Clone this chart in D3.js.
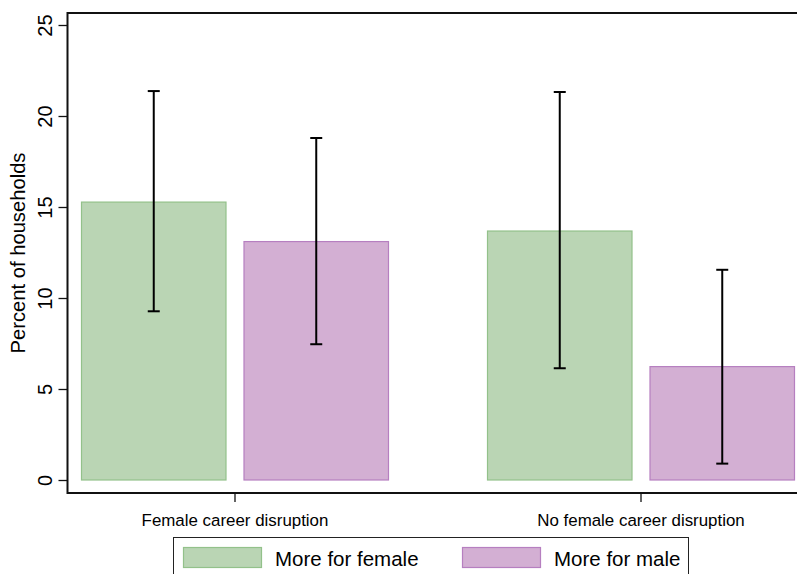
<!DOCTYPE html>
<html>
<head>
<meta charset="utf-8">
<script src="https://cdn.jsdelivr.net/npm/d3@7"></script>
<style>
  html, body { margin: 0; padding: 0; background: #fff; }
  svg { display: block; }
  text { font-family: "Liberation Sans", Arial, Helvetica, sans-serif; fill: #000; }
</style>
</head>
<body>
<svg id="chart" width="797" height="574"></svg>
<script>
// Household shares by career-disruption status
const categories = ["Female career disruption", "No female career disruption"];
const seriesNames = ["More for female", "More for male"];
const moreForFemale = [15.27, 13.68];
const moreForMale = [13.1, 6.23];
const femaleLow = [9.27, 6.14];
const femaleHigh = [21.37, 21.32];
const maleLow = [7.46, 0.9];
const maleHigh = [18.79, 11.55];
const yTicks = [0, 5, 10, 15, 20, 25];

const colors = {
  "More for female": { fill: "#bad5b4", stroke: "#93c18a" },
  "More for male": { fill: "#d3afd3", stroke: "#b67fc0" }
};

const rows = [];
categories.forEach((c, i) => {
  rows.push({ cat: c, series: seriesNames[0], value: moreForFemale[i], lo: femaleLow[i], hi: femaleHigh[i] });
  rows.push({ cat: c, series: seriesNames[1], value: moreForMale[i], lo: maleLow[i], hi: maleHigh[i] });
});

const svg = d3.select("#chart");

const frame = { left: 67.5, right: 809, top: 13, bottom: 493 };

const y = d3.scaleLinear().domain([0, 25]).range([480, 25]);
const x0 = d3.scaleBand().domain(categories).range([81, 795]).paddingInner(0.2414).paddingOuter(0);
const x1 = d3.scaleBand().domain(seriesNames).range([0, x0.bandwidth()]).paddingInner(0.1046).paddingOuter(0);

// Plot region outline
svg.append("rect")
  .attr("x", frame.left).attr("y", frame.top)
  .attr("width", frame.right - frame.left).attr("height", frame.bottom - frame.top)
  .attr("fill", "none").attr("stroke", "#111").attr("stroke-width", 2);

// Bars
svg.append("g").selectAll("rect").data(rows).join("rect")
  .attr("x", d => x0(d.cat) + x1(d.series) + 0.5)
  .attr("y", d => y(d.value))
  .attr("width", x1.bandwidth() - 1)
  .attr("height", d => y(0) - y(d.value))
  .attr("fill", d => colors[d.series].fill)
  .attr("stroke", d => colors[d.series].stroke)
  .attr("stroke-width", 1.2);

// Confidence intervals
const capHalf = 6;
const eb = svg.append("g").attr("stroke", "#000").attr("stroke-width", 2);
rows.forEach(d => {
  const cx = x0(d.cat) + x1(d.series) + x1.bandwidth() / 2;
  eb.append("line").attr("x1", cx).attr("x2", cx).attr("y1", y(d.hi)).attr("y2", y(d.lo));
  eb.append("line").attr("x1", cx - capHalf).attr("x2", cx + capHalf).attr("y1", y(d.hi)).attr("y2", y(d.hi));
  eb.append("line").attr("x1", cx - capHalf).attr("x2", cx + capHalf).attr("y1", y(d.lo)).attr("y2", y(d.lo));
});

// Y axis
const yAxis = svg.append("g")
  .attr("transform", `translate(${frame.left},0)`)
  .call(d3.axisLeft(y).tickValues(yTicks).tickSize(9).tickPadding(6));
yAxis.select(".domain").remove();
yAxis.selectAll(".tick line").attr("stroke", "#111").attr("stroke-width", 1.3);
yAxis.selectAll(".tick text")
  .attr("font-size", 20)
  .attr("transform", "rotate(-90)")
  .attr("x", 0).attr("y", -15.5)
  .attr("dy", 0)
  .attr("text-anchor", "middle");

svg.append("text")
  .attr("transform", `translate(25,${(frame.top + frame.bottom) / 2}) rotate(-90)`)
  .attr("text-anchor", "middle")
  .attr("font-size", 20.2)
  .text("Percent of households");

// X axis
const xAxis = svg.append("g")
  .attr("transform", `translate(0,${frame.bottom})`)
  .call(d3.axisBottom(x0).tickSize(9).tickPadding(12));
xAxis.select(".domain").remove();
xAxis.selectAll(".tick line").attr("stroke", "#111").attr("stroke-width", 1.3);
xAxis.selectAll(".tick text").attr("font-size", 16.9);

// Legend
const legend = svg.append("g");
legend.append("rect")
  .attr("x", 173.5).attr("y", 537.5).attr("width", 515).attr("height", 60)
  .attr("fill", "#fff").attr("stroke", "#222").attr("stroke-width", 1);
const legendX = [183, 462];
seriesNames.forEach((s, i) => {
  legend.append("rect")
    .attr("x", legendX[i] + 0.5).attr("y", 547.5).attr("width", 78).attr("height", 20)
    .attr("fill", colors[s].fill).attr("stroke", colors[s].stroke).attr("stroke-width", 1.2);
  legend.append("text")
    .attr("x", legendX[i] + 92).attr("y", 566)
    .attr("font-size", 20.5)
    .text(s);
});
</script>
</body>
</html>
